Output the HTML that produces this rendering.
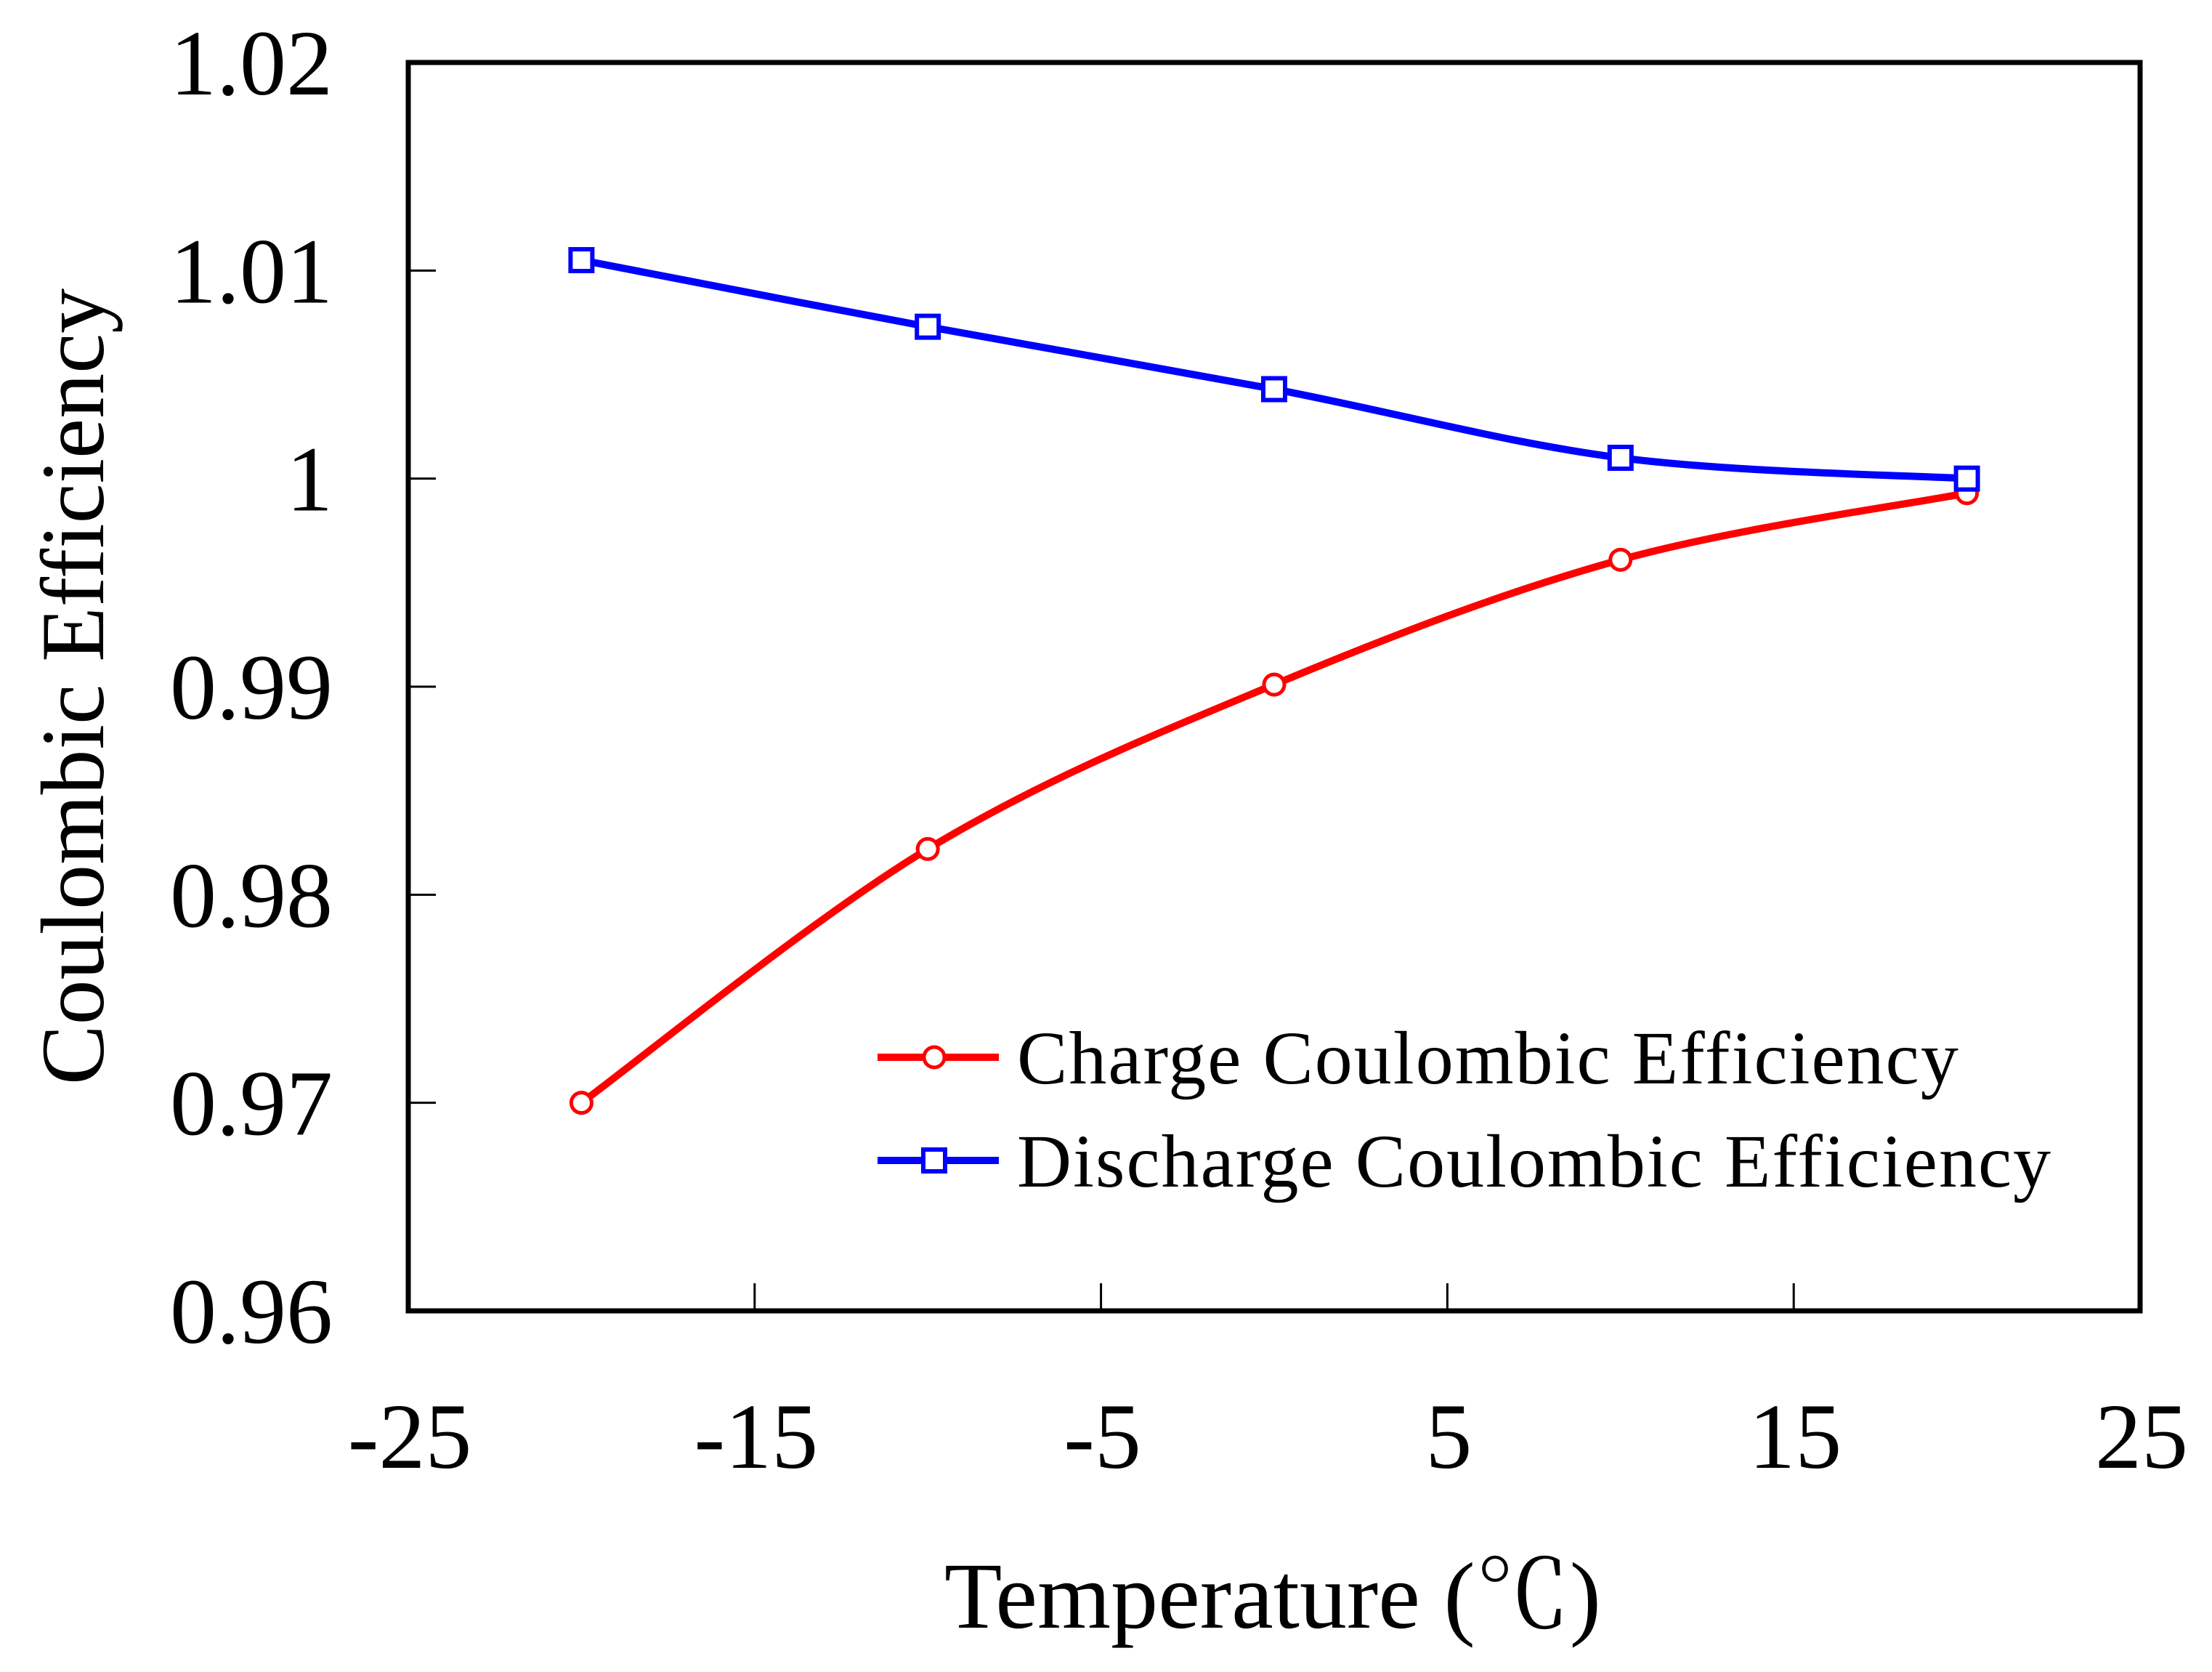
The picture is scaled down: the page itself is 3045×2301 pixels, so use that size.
<!DOCTYPE html>
<html><head><meta charset="utf-8"><style>
html,body{margin:0;padding:0;background:#fff}
svg{display:block}
text{font-family:"Liberation Serif","Noto Serif CJK SC",serif;fill:#000}
</style></head><body>
<svg id="chart" width="3045" height="2301" viewBox="0 0 3045 2301">
<g id="plot"></g>
</svg>
<script>
const temps = [-20, -10, 0, 10, 20];
const chargeEff = [0.9700, 0.9822, 0.9901, 0.9961, 0.9993];
const dischargeEff = [1.0105, 1.0073, 1.0043, 1.0010, 1.0000];
const xTicks = [-25, -15, -5, 5, 15, 25];
const yTicks = [0.96, 0.97, 0.98, 0.99, 1.00, 1.01, 1.02];
const yTickLabels = ["0.96", "0.97", "0.98", "0.99", "1", "1.01", "1.02"];

const L = 562, R = 2946, T = 86, B = 1804;
const ns = "http://www.w3.org/2000/svg";
const g = document.getElementById('plot');
function xs(v){ return L + (v - (-25)) / 50 * (R - L); }
function ys(v){ return B - (v - 0.96) / 0.06 * (B - T); }
function el(tag, attrs, parent){
  const e = document.createElementNS(ns, tag);
  for (const k in attrs) e.setAttribute(k, attrs[k]);
  (parent || g).appendChild(e);
  return e;
}
function smooth(pts){
  let d = `M${pts[0][0]},${pts[0][1]}`;
  for (let i = 0; i < pts.length - 1; i++){
    const p0 = pts[Math.max(i-1,0)], p1 = pts[i], p2 = pts[i+1], p3 = pts[Math.min(i+2,pts.length-1)];
    const c1 = [p1[0] + (p2[0]-p0[0])/6, p1[1] + (p2[1]-p0[1])/6];
    const c2 = [p2[0] - (p3[0]-p1[0])/6, p2[1] - (p3[1]-p1[1])/6];
    d += ` C${c1[0]},${c1[1]} ${c2[0]},${c2[1]} ${p2[0]},${p2[1]}`;
  }
  return d;
}

yTicks.forEach((v, i) => {
  if (i > 0 && i < yTicks.length - 1) {
    const t = el('line', {x1: L, x2: L + 38, y1: ys(v), y2: ys(v), stroke: '#000', 'stroke-width': 3});
    
    
  }
  const lb = el('text', {x: 458, y: ys(v) + 44, 'font-size': 128, 'text-anchor': 'end'});
  lb.textContent = yTickLabels[i];
  
  
});
xTicks.forEach((v, i) => {
  if (i > 0 && i < xTicks.length - 1) {
    const t = el('line', {x1: xs(v), x2: xs(v), y1: B, y2: B - 38, stroke: '#000', 'stroke-width': 3});
    
    
  }
  const lb = el('text', {x: xs(v) + 2, y: 2020, 'font-size': 128, 'text-anchor': 'middle'});
  lb.textContent = String(v);
  
  
});
const frame = el('rect', {x: L, y: T, width: R - L, height: B - T, fill: 'none', stroke: '#000', 'stroke-width': 7});



const cPts = temps.map((t, i) => [xs(t), ys(chargeEff[i])]);
const dPts = temps.map((t, i) => [xs(t), ys(dischargeEff[i])]);
const cl = el('path', {d: smooth(cPts), fill: 'none', stroke: '#ff0000', 'stroke-width': 10});


const dl = el('path', {d: smooth(dPts), fill: 'none', stroke: '#0000ff', 'stroke-width': 10});


cPts.forEach(p => {
  const m = el('circle', {cx: p[0], cy: p[1], r: 14, fill: '#fff', stroke: '#ff0000', 'stroke-width': 5});
  
  
});
dPts.forEach(p => {
  const m = el('rect', {x: p[0] - 15, y: p[1] - 15, width: 30, height: 30, fill: '#fff', stroke: '#0000ff', 'stroke-width': 6});
  
  
});

const lg = el('g', {});


[['Charge Coulombic Efficiency', '#ff0000', 'c', 1455], ['Discharge Coulombic Efficiency', '#0000ff', 's', 1597]].forEach(([name, col, mk, y]) => {
  const e = el('g', {}, lg);
  
  
  el('line', {x1: 1208, x2: 1375, y1: y, y2: y, stroke: col, 'stroke-width': 10}, e);
  if (mk === 'c') el('circle', {cx: 1286, cy: y, r: 14, fill: '#fff', stroke: col, 'stroke-width': 5}, e);
  else el('rect', {x: 1271, y: y - 15, width: 30, height: 30, fill: '#fff', stroke: col, 'stroke-width': 6}, e);
  const t = el('text', {x: 1400, y: y + 36, 'font-size': 104, 'letter-spacing': 2}, e);
  t.textContent = name;
});

const xt = el('text', {x: 1752, y: 2240, 'font-size': 130, 'text-anchor': 'middle'});
xt.textContent = 'Temperature (℃)';


const yt = el('text', {x: 0, y: 0, 'font-size': 124, 'text-anchor': 'middle', transform: 'translate(142,945) rotate(-90)'});
yt.textContent = 'Coulombic Efficiency';


</script>
</body></html>
